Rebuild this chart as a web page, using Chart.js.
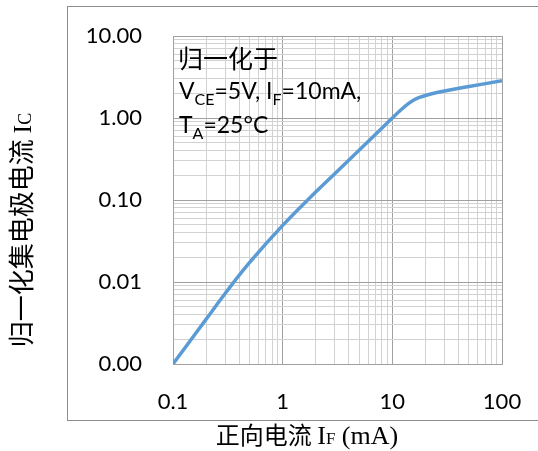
<!DOCTYPE html>
<html>
<head>
<meta charset="utf-8">
<script src="https://cdn.jsdelivr.net/npm/chart.js@4.4.0/dist/chart.umd.min.js"></script>
<style>
body { margin: 0; background: #fff; }
</style>
</head>
<body>
<canvas id="myChart" width="538" height="451"></canvas>
<script>
// forward current IF (mA) and normalized collector current
const ifCurrent = [0.1, 0.2, 0.3, 0.5, 1, 2, 3, 5, 7, 10, 12, 14, 16, 18, 20, 25, 30, 50, 100]
const icNorm = [0.001, 0.0035, 0.0073, 0.0173, 0.049, 0.125, 0.211, 0.406, 0.63, 1.0, 1.26, 1.5, 1.68, 1.8, 1.88, 2.03, 2.14, 2.42, 2.85]

const xDecades = [0.1, 1, 10, 100]
const xTickLabels = ['0.1', '1', '10', '100']
const yDecades = [0.001, 0.01, 0.1, 1, 10]
const yTickLabels = ['0.00', '0.01', '0.10', '1.00', '10.00']

const noteLines = [
    [['归一化于', '']],
    [['V', ''], ['CE', 'sub'], ['=5V, I', ''], ['F', 'sub'], ['=10mA,', '']],
    [['T', ''], ['A', 'sub'], ['=25°C', '']]
]

function isDecade(v){
    let l = Math.log10(v)
    return Math.abs(l - Math.round(l)) < 1e-6
}

// 1..9 steps inside every decade, for the grid lines
function logSteps(decades){
    let out = []
    for(let i = 0; i < decades.length - 1; i++){
        for(let k = 1; k < 10; k++) out.push(decades[i] * k)
    }
    out.push(decades[decades.length - 1])
    return out
}

function labelFor(v, decades, labels){
    for(let i = 0; i < decades.length; i++){
        if(Math.abs(Math.log10(v) - Math.log10(decades[i])) < 1e-6) return labels[i]
    }
    return ''
}

function gridColor(ctx){
    return isDecade(ctx.tick.value) ? '#a0a0a0' : '#d2d2d2'
}

const CJK = '"Noto Sans CJK SC"'
const SERIF = '"Liberation Serif"'

const textPlugin = {
    id: 'texts',
    beforeDraw(chart){
        const c = chart.ctx
        c.save()
        c.strokeStyle = '#8c8c8c'
        c.lineWidth = 1
        c.strokeRect(67.5, 6.5, 500, 414)
        c.restore()
    },
    afterDraw(chart){
        const c = chart.ctx
        c.save()
        c.fillStyle = '#000'

        // note inside the plot
        c.textBaseline = 'middle'
        c.font = '25px ' + CJK
        c.fillText(noteLines[0][0][0], 178, 58)
        c.textBaseline = 'alphabetic'
        let baselines = [0, 98.5, 133]
        for(let li = 1; li < noteLines.length; li++){
            let x = 179
            noteLines[li].forEach(run => {
                let sub = run[1] == 'sub'
                c.font = (sub ? '16px ' : '23px ') + 'Lato'
                c.fillText(run[0], x, baselines[li] + (sub ? 6 : 0))
                x += c.measureText(run[0]).width
            })
        }

        // x axis title
        let xRuns = [['正向电流 ', '24px ' + CJK], ['I', '26px ' + SERIF], ['F', '17px ' + SERIF], [' (mA)', '26px ' + SERIF]]
        drawRuns(c, xRuns, 307, 444)

        // y axis title, rotated
        c.translate(31, 230)
        c.rotate(-Math.PI / 2)
        let yRuns = [['归一化集电极电流 ', '26px ' + CJK], ['I', '26px ' + SERIF], ['C', '18px ' + SERIF]]
        drawRuns(c, yRuns, 0, 0)
        c.restore()
    }
}

function drawRuns(c, runs, cx, baseline){
    let total = 0
    runs.forEach(r => { c.font = r[1]; total += c.measureText(r[0]).width })
    let x = cx - total / 2
    c.textBaseline = 'alphabetic'
    runs.forEach(r => {
        c.font = r[1]
        c.fillText(r[0], x, baseline)
        x += c.measureText(r[0]).width
    })
}

const points = ifCurrent.map((v, i) => ({x: v, y: icNorm[i]}))

new Chart(document.getElementById('myChart'), {
    type: 'line',
    data: {
        datasets: [{
            data: points,
            borderColor: '#5b9bd5',
            borderWidth: 3.5,
            pointRadius: 0,
            tension: 0.4
        }]
    },
    options: {
        responsive: false,
        animation: false,
        layout: { padding: { top: 36, right: 36, left: 0, bottom: 0 } },
        plugins: { legend: { display: false }, tooltip: { enabled: false } },
        scales: {
            x: {
                type: 'logarithmic',
                min: 0.1,
                max: 100,
                afterBuildTicks: s => { s.ticks = logSteps(xDecades).map(v => ({value: v})) },
                afterFit: s => { s.height = 87; s.paddingLeft = 0; s.paddingRight = 0 },
                ticks: {
                    autoSkip: false,
                    maxRotation: 0,
                    padding: 25,
                    color: '#000',
                    font: { family: 'Lato', size: 22 },
                    callback: v => labelFor(v, xDecades, xTickLabels)
                },
                grid: { color: gridColor, drawTicks: false },
                border: { color: '#a0a0a0' }
            },
            y: {
                type: 'logarithmic',
                min: 0.001,
                max: 10,
                afterBuildTicks: s => { s.ticks = logSteps(yDecades).map(v => ({value: v})) },
                afterFit: s => { s.width = 173; s.paddingTop = 0; s.paddingBottom = 0 },
                ticks: {
                    autoSkip: false,
                    padding: 31,
                    color: '#000',
                    font: { family: 'Lato', size: 22 },
                    callback: v => labelFor(v, yDecades, yTickLabels)
                },
                grid: { color: gridColor, drawTicks: false },
                border: { color: '#a0a0a0' }
            }
        }
    },
    plugins: [textPlugin]
})
</script>
</body>
</html>
